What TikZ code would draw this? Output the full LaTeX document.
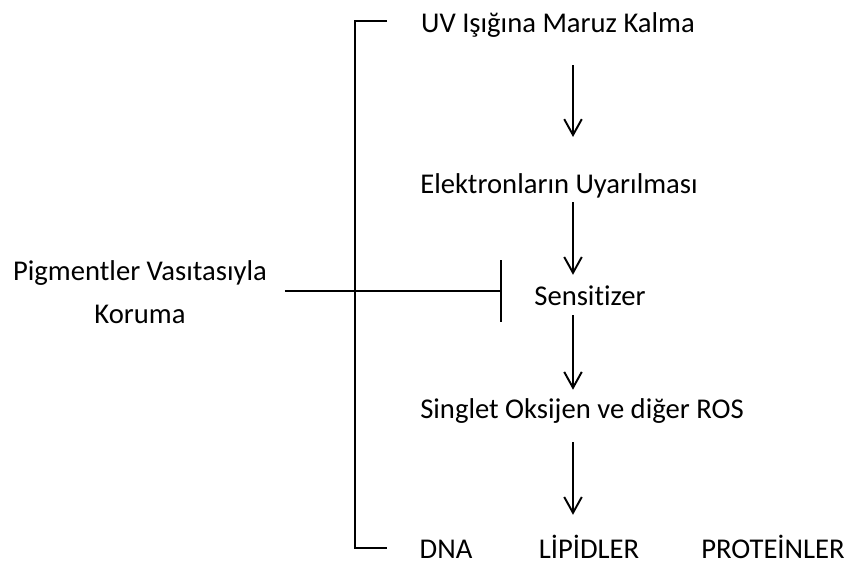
\documentclass[tikz,border=0pt]{standalone}
\usepackage{fontspec}
\setmainfont[Ligatures=NoCommon]{Carlito}
\usetikzlibrary{arrows.meta}
\tikzset{>={Straight Barb[length=9pt,width=10pt]}}
\tikzset{lbl/.style={inner sep=0pt, text height=11pt, text depth=4pt, anchor=base, font=\fontsize{16.3}{24.4}\selectfont}}

\begin{document}
\begin{tikzpicture}[x=0.02cm, y=-0.02cm]
\useasboundingbox (0,0) rectangle (849,565);
% steps
\node[lbl] (uv)   at (558,32)  {UV Işığına Maruz Kalma};
\node[lbl] (ele)  at (559,193) {Elektronların Uyarılması};
\node[lbl] (sens) at (590,305) {Sensitizer};
\node[lbl] (ros)  at (582,418) {Singlet Oksijen ve diğer ROS};
\node[lbl] (dna)  at (446,558) {DNA};
\node[lbl] (lip)  at (589,558) {LİPİDLER};
\node[lbl] (pro)  at (773,558) {PROTEİNLER};
\node[lbl, align=center] (pig) at (140,323) {Pigmentler Vasıtasıyla\\Koruma};
\coordinate (ax)  at (573,0);
\coordinate (blk) at (502,291);
\coordinate (bt)  at (387,21);
\coordinate (bb)  at (387,548);
\path[->, line width=1.1pt]
(uv.south -| ax) edge [shorten <=14.7pt, shorten >=20.7pt] (ele.north -| ax)
(ele.south -| ax) edge [shorten <=1.1pt, shorten >=6pt] (sens.north -| ax)
(sens.south -| ax) edge [shorten <=1.7pt, shorten >=4.9pt] (ros.north -| ax)
(ros.south -| ax) edge [shorten <=9.6pt, shorten >=13.4pt] (lip.north -| ax)
;
% bracket and block
\draw[line width=1.5pt] (bt) -- ++(-32,0) |- (bb);
\draw[-{Bar[width=35pt]}, line width=1.2pt, shorten <=10pt] (pig.east |- blk) -- (blk);
\end{tikzpicture}
\end{document}
